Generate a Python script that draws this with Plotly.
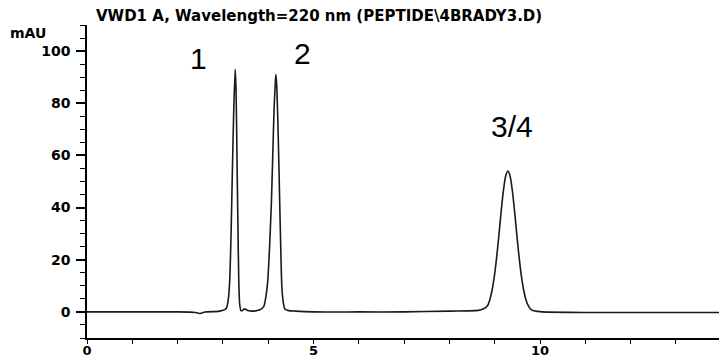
import plotly.graph_objects as go

# Chromatogram trace (time in min, absorbance in mAU)
time_min = [0, 1.0, 2.0, 2.4, 2.5, 2.6, 2.9, 3.0, 3.05, 3.08, 3.12, 3.15, 3.18, 3.21, 3.24, 3.27,
            3.29, 3.31, 3.33, 3.35, 3.37, 3.40, 3.44, 3.47, 3.50, 3.55, 3.62, 3.72, 3.82, 3.90,
            3.95, 3.99, 4.03, 4.07, 4.10, 4.13, 4.16, 4.17, 4.19, 4.22, 4.25, 4.28, 4.30, 4.33,
            4.37, 4.45, 4.6, 5.0, 6.0, 7.0, 8.0, 8.4, 8.64, 8.74, 8.84, 8.89, 8.94, 8.99, 9.04,
            9.09, 9.14, 9.19, 9.24, 9.29, 9.34, 9.39, 9.44, 9.49, 9.54, 9.59, 9.64, 9.69, 9.74,
            9.79, 9.84, 9.94, 10.05, 11.0, 12.0, 13.0, 14.0]
signal_mau = [0, 0, 0, -0.2, -0.6, 0, 0.2, 0.6, 1.0, 1.5, 5, 12, 30, 55, 78, 93,
              85, 60, 35, 12, 3, 0.5, 0.6, 1.2, 1.0, 0.5, 0.3, 0.4, 0.8, 2,
              6, 12, 25, 42, 60, 78, 89, 91, 86, 68, 45, 22, 10, 4,
              1, 0.5, 0.3, 0, 0, 0, 0.3, 0.4, 0.6, 1.1, 2.4, 4.6, 8.2, 13.5, 20.6,
              29.1, 38.2, 46.3, 52, 54, 52, 46.3, 38.2, 29.1, 20.6, 13.5, 8.2, 4.6,
              2.4, 1.1, 0.5, 0.2, 0, -0.2, -0.2, -0.2, -0.2]

peak_labels = ["1", "2", "3/4"]
label_x = [2.45, 4.75, 9.38]
label_y = [97, 99, 71]

title_text = "VWD1 A, Wavelength=220 nm (PEPTIDE\\4BRADY3.D)"
y_ticks = [0, 20, 40, 60, 80, 100]
x_ticks = [0, 5, 10]

fig = go.Figure()
fig.add_trace(go.Scatter(x=time_min, y=signal_mau, mode="lines",
                         line=dict(color="#1a1a1a", width=1.6, shape="spline", smoothing=0.6),
                         showlegend=False, hoverinfo="skip"))

for lab, lx, ly in zip(peak_labels, label_x, label_y):
    fig.add_annotation(x=lx, y=ly, text=lab, showarrow=False,
                       font=dict(family="Liberation Sans, Arial", size=30, color="black"))

fig.add_annotation(xref="paper", yref="paper", x=-0.125, y=0.974, xanchor="left", yanchor="middle",
                   text="<b>mAU</b>", showarrow=False,
                   font=dict(family="DejaVu Sans", size=14, color="black"))
fig.add_annotation(xref="paper", yref="paper", x=0.011, y=1.029, xanchor="left", yanchor="middle",
                   text="<b>" + title_text + "</b>", showarrow=False,
                   font=dict(family="DejaVu Sans", size=15, color="black"))

fig.update_xaxes(range=[0, 13.95], tickvals=x_ticks, ticktext=[f"<b>{v}</b>" for v in x_ticks],
                 ticks="",
                 minor=dict(dtick=1, ticks="outside", ticklen=4, tickwidth=1.2, tickcolor="black"),
                 showline=True, linecolor="black", linewidth=1.5, showgrid=False, zeroline=False,
                 automargin=False,
                 tickfont=dict(family="DejaVu Sans", size=13, color="black"))
fig.update_yaxes(range=[-10, 110], tickvals=y_ticks, ticktext=[f"<b>{v}</b>" for v in y_ticks],
                 ticks="outside", ticklen=9, tickwidth=1.5, tickcolor="black",
                 minor=dict(dtick=5, ticks="outside", ticklen=5, tickwidth=1, tickcolor="black"),
                 showline=True, linecolor="black", linewidth=1.5, showgrid=False, zeroline=False,
                 automargin=False, ticklabelstandoff=3,
                 tickfont=dict(family="DejaVu Sans", size=14, color="black"))

fig.update_layout(width=719, height=357, margin=dict(l=87, r=0, t=25, b=19),
                  paper_bgcolor="white", plot_bgcolor="white")

fig.write_html("out.html")
